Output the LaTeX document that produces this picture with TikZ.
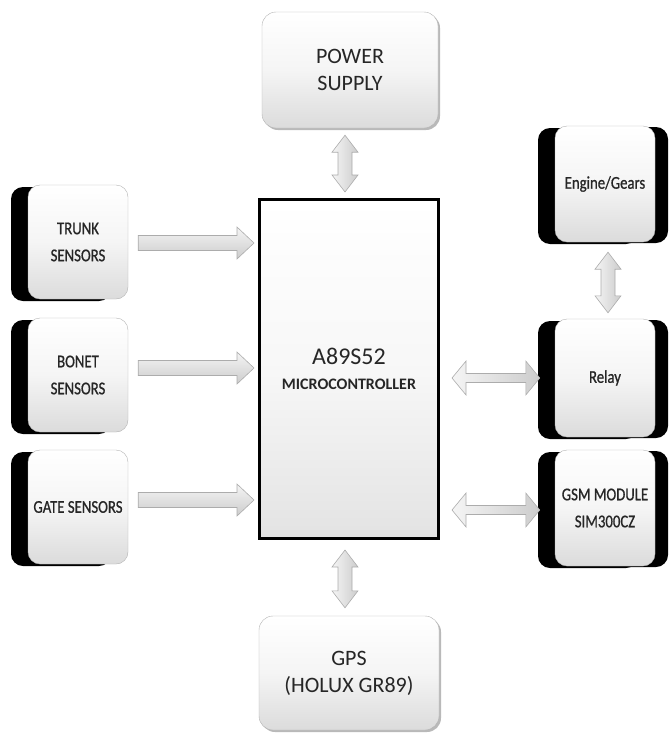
\documentclass[tikz,border=0pt]{standalone}
\usepackage{fontspec}
\setmainfont{Carlito}
\newfontfamily\narrowfont[FakeStretch=0.82,FakeBold=0.8]{Carlito}
\usetikzlibrary{calc,shadows}

\tikzset{
  bigbox/.style={draw=gray!60, rounded corners=14pt, top color=white, bottom color=gray!28, middle color=gray!8,
    text=black!85, align=center, font=\fontsize{22}{27}\selectfont,
    general shadow={fill=gray!55, shadow xshift=2pt, shadow yshift=-2pt}},
  leftbox/.style={draw=gray!60, rounded corners=12pt, top color=white, bottom color=gray!28, middle color=gray!8,
    text=black!85, align=center, minimum width=100pt, minimum height=114pt, font=\narrowfont\fontsize{18}{27}\selectfont,
    general shadow={fill=black, shadow xshift=-17pt, shadow yshift=-2pt}},
  rightbox/.style={leftbox, general shadow={fill=black, shadow xshift=13pt, shadow yshift=-1pt}},
  mcubox/.style={draw=black, line width=3pt, top color=white, bottom color=gray!22, middle color=gray!6,
    text=black!85, align=center, minimum width=179pt, minimum height=339pt, font=\fontsize{24}{28}\selectfont},
  % fat arrow: half shaft, half head, head length
  onearrow/.style n args={3}{draw=gray!65, line width=0.6pt, top color=gray!8, bottom color=gray!40,
    to path={($(\tikztostart)!#1!90:(\tikztotarget)$)
      -- ($(\tikztotarget)!#3!(\tikztostart)!#1!-90:(\tikztostart)$)
      -- ($(\tikztotarget)!#3!(\tikztostart)!#2!-90:(\tikztostart)$)
      -- (\tikztotarget)
      -- ($(\tikztotarget)!#3!(\tikztostart)!#2!90:(\tikztostart)$)
      -- ($(\tikztotarget)!#3!(\tikztostart)!#1!90:(\tikztostart)$)
      -- ($(\tikztostart)!#1!-90:(\tikztotarget)$) -- cycle}},
  twoarrow/.style n args={3}{draw=gray!65, line width=0.6pt, left color=gray!8, right color=gray!40,
    to path={(\tikztostart)
      -- ($(\tikztostart)!#3!(\tikztotarget)!#2!90:(\tikztotarget)$)
      -- ($(\tikztostart)!#3!(\tikztotarget)!#1!90:(\tikztotarget)$)
      -- ($(\tikztotarget)!#3!(\tikztostart)!#1!-90:(\tikztostart)$)
      -- ($(\tikztotarget)!#3!(\tikztostart)!#2!-90:(\tikztostart)$)
      -- (\tikztotarget)
      -- ($(\tikztotarget)!#3!(\tikztostart)!#2!90:(\tikztostart)$)
      -- ($(\tikztotarget)!#3!(\tikztostart)!#1!90:(\tikztostart)$)
      -- ($(\tikztostart)!#3!(\tikztotarget)!#1!-90:(\tikztotarget)$)
      -- ($(\tikztostart)!#3!(\tikztotarget)!#2!-90:(\tikztotarget)$)
      -- cycle}},
}

\begin{document}
\begin{tikzpicture}[x=1pt,y=-1pt]
\useasboundingbox (0,0) rectangle (671,734);

% Middle column
\node[bigbox, minimum width=176pt, minimum height=116pt] (power) at (350,70) {POWER\\SUPPLY};
\node[mcubox] (mcu) at (349,369) {A89S52\\[-3pt]{\fontsize{16}{20}\selectfont\bfseries MICROCONTROLLER}};
\node[bigbox, minimum width=180pt, minimum height=114pt] (gps) at (349,673) {GPS\\(HOLUX GR89)};

% Sensors on the left
\node[leftbox] (trunk) at (78,242) {TRUNK\\SENSORS};
\node[leftbox] (bonet) at (78,375) {BONET\\SENSORS};
\node[leftbox] (gate) at (78,507) {GATE SENSORS};

% Outputs on the right
\node[rightbox, minimum height=116pt] (engine) at (605,184) {Engine/Gears};
\node[rightbox, minimum height=118pt] (relay) at (605,378) {Relay};
\node[rightbox, minimum height=116pt] (gsm) at (605,508) {GSM MODULE\\SIM300CZ};

% Sensor arrows
\draw[onearrow={7.5pt}{16pt}{17pt}] ($(trunk.east)+(10,1)$) to ($(mcu.west |- trunk.east)+(-4,1)$);
\draw[onearrow={7.5pt}{16pt}{17pt}] ($(bonet.east)+(10,-7)$) to ($(mcu.west |- bonet.east)+(-4,-7)$);
\draw[onearrow={7.5pt}{16pt}{17pt}] ($(gate.east)+(10,-7)$) to ($(mcu.west |- gate.east)+(-4,-7)$);

% Two way arrows
\draw[twoarrow={7pt}{13pt}{17pt}] ($(mcu.north |- power.south)+(-4,7)$) to ($(mcu.north)+(-4,-6)$);
\draw[twoarrow={7pt}{13pt}{17pt}] ($(mcu.south)+(-4,10)$) to ($(mcu.south |- gps.north)+(-4,-8)$);
\draw[twoarrow={7pt}{13pt}{17pt}] ($(engine.south)+(3,10)$) to ($(relay.north)+(3,-6)$);
\draw[twoarrow={4.5pt}{17pt}{14pt}] ($(mcu.east |- relay.west)+(12,0)$) to ($(relay.west)+(-15,0)$);
\draw[twoarrow={4.5pt}{17pt}{14pt}] ($(mcu.east |- gsm.west)+(12,2)$) to ($(gsm.west)+(-15,2)$);

\end{tikzpicture}
\end{document}
